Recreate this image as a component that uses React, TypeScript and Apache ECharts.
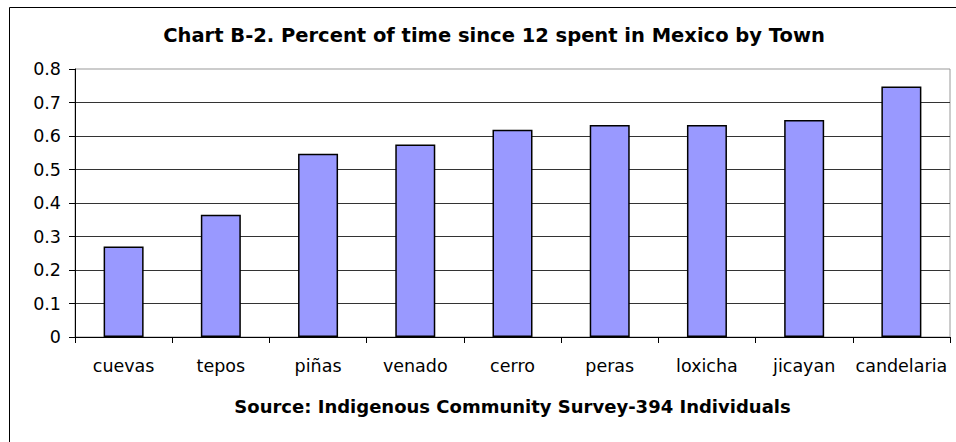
import React, { useEffect, useRef } from "react";
import * as echarts from "echarts";

const titleText = "Chart B-2. Percent of time since 12 spent in Mexico by Town";
const sourceText = "Source: Indigenous Community Survey-394 Individuals";
const towns = ["cuevas", "tepos", "piñas", "venado", "cerro", "peras", "loxicha", "jicayan", "candelaria"];
const shareInMexico = [0.27, 0.365, 0.547, 0.575, 0.619, 0.633, 0.633, 0.648, 0.748];
const yTicks = { min: 0, max: 0.8, interval: 0.1 };

const FONT = "DejaVu Sans";

export default function App() {
  const ref = useRef<HTMLDivElement>(null);
  useEffect(() => {
    if (!ref.current) return;
    const chart = echarts.init(ref.current, null, { renderer: "svg" });
    chart.setOption({
      animation: false,
      backgroundColor: "#ffffff",
      title: {
        text: titleText,
        left: 489,
        textAlign: "center",
        top: 20,
        textStyle: { fontFamily: FONT, fontSize: 19.5, fontWeight: "bold", color: "#000" },
      },
      graphic: [
        {
          type: "rect",
          shape: { x: 9.5, y: 7.5, width: 1200, height: 800 },
          style: { fill: "none", stroke: "#000", lineWidth: 1 },
          silent: true,
        },
      ],
      grid: {
        left: 75,
        right: 6,
        top: 69,
        bottom: 105,
        show: true,
        borderColor: "#999",
        borderWidth: 1,
        backgroundColor: "transparent",
      },
      xAxis: {
        type: "category",
        data: towns,
        boundaryGap: true,
        axisLine: { lineStyle: { color: "#000", width: 1 } },
        axisTick: { show: true, length: 6, alignWithLabel: false, lineStyle: { color: "#000" } },
        axisLabel: { fontFamily: FONT, fontSize: 17.5, color: "#000", margin: 20, interval: 0 },
        name: sourceText,
        nameLocation: "middle",
        nameGap: 60,
        nameTextStyle: { fontFamily: FONT, fontSize: 18, fontWeight: "bold", color: "#000" },
      },
      yAxis: {
        type: "value",
        min: yTicks.min,
        max: yTicks.max,
        interval: yTicks.interval,
        axisLine: { show: true, lineStyle: { color: "#000", width: 1 } },
        axisTick: { show: true, length: 6, lineStyle: { color: "#000" } },
        axisLabel: {
          fontFamily: FONT,
          fontSize: 17.5,
          color: "#000",
          margin: 14,
          formatter: (v: number) => (v === 0 ? "0" : String(Math.round(v * 10) / 10)),
        },
        splitLine: { show: true, showMaxLine: false, lineStyle: { color: "#333", width: 1 } },
      },
      series: [
        {
          type: "bar",
          data: shareInMexico,
          barWidth: 40,
          itemStyle: { color: "#9999FF", borderColor: "#000", borderWidth: 1.5 },
        },
      ],
    });
    return () => chart.dispose();
  }, []);
  return (
    <div
      ref={ref}
      style={{ position: "fixed", left: 0, top: 0, width: 956, height: 442 }}
    />
  );
}
